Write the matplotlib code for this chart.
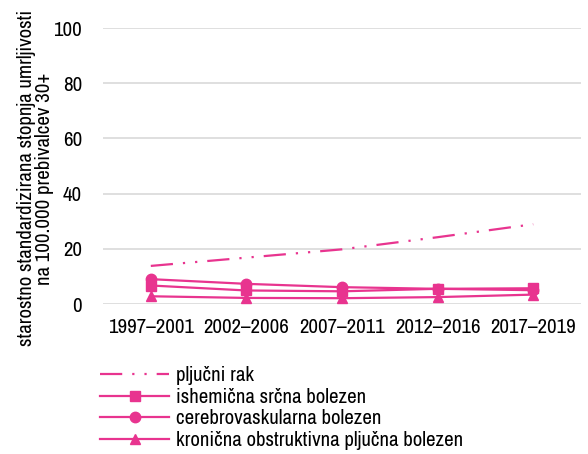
import matplotlib
matplotlib.use("Agg")
import matplotlib.pyplot as plt
from matplotlib import font_manager

# Prefer a narrow sans-serif face; fall back to regular ones
available = {f.name for f in font_manager.fontManager.ttflist}
preferred = ["Liberation Sans Narrow", "Arial Narrow", "Archivo Narrow",
             "Roboto Condensed", "PT Sans Narrow", "Liberation Sans"]
family = next(n for n in preferred if n in available or n == "Liberation Sans")
plt.rcParams["font.family"] = [family, "DejaVu Sans"]

periods = ["1997–2001", "2002–2006", "2007–2011", "2012–2016", "2017–2019"]
lung_cancer = [13.8, 16.8, 19.8, 24.2, 28.9]
ischemic_heart = [6.7, 4.9, 4.6, 5.5, 5.7]
cerebrovascular = [9.0, 7.3, 6.1, 5.5, 5.0]
copd = [2.8, 2.2, 2.1, 2.5, 3.4]

series_labels = [
    "pljučni rak",
    "ishemična srčna bolezen",
    "cerebrovaskularna bolezen",
    "kronična obstruktivna pljučna bolezen",
]
yticks = [0, 20, 40, 60, 80, 100]
pink = "#E8348F"
fs = 15

fig = plt.figure(figsize=(5.88, 4.54), dpi=100)
ax = fig.add_axes([103 / 588, 1 - 304 / 454, 478 / 588, 276 / 454])

x = list(range(len(periods)))
ax.plot(x, lung_cancer, color=pink, lw=1.6, dashes=(10, 4.5, 1, 4.5, 1, 4.5),
        label=series_labels[0])
ax.plot(x, ischemic_heart, color=pink, lw=1.6, marker="s", ms=7.5,
        label=series_labels[1])
ax.plot(x, cerebrovascular, color=pink, lw=1.6, marker="o", ms=7.5,
        label=series_labels[2])
ax.plot(x, copd, color=pink, lw=1.6, marker="^", ms=7.5,
        label=series_labels[3])

ax.set_xlim(-0.5, len(periods) - 0.5)
ax.set_ylim(0, 100)
ax.set_yticks(yticks)
ax.set_xticks(x)
ax.set_xticklabels(periods, fontsize=14.5)
ax.tick_params(axis="both", length=0, labelsize=fs)
ax.tick_params(axis="x", pad=10)
ax.tick_params(axis="y", pad=15)
ax.grid(axis="y", color="#d9d9d9", lw=1.2)
ax.set_axisbelow(True)
for s in ax.spines.values():
    s.set_visible(False)

ax.set_ylabel("starostno standardizirana stopnja umrljivosti\nna 100.000 prebivalcev 30+",
              fontsize=fs, linespacing=0.95)
ax.yaxis.set_label_coords(-0.102, 0.455)

leg = fig.legend(loc="upper left", bbox_to_anchor=(92 / 588, 1 - 358 / 454),
                 frameon=False, fontsize=fs, handlelength=3.3,
                 handletextpad=0.35, labelspacing=0.12, borderaxespad=0)

fig.savefig("out.png", dpi=100)
